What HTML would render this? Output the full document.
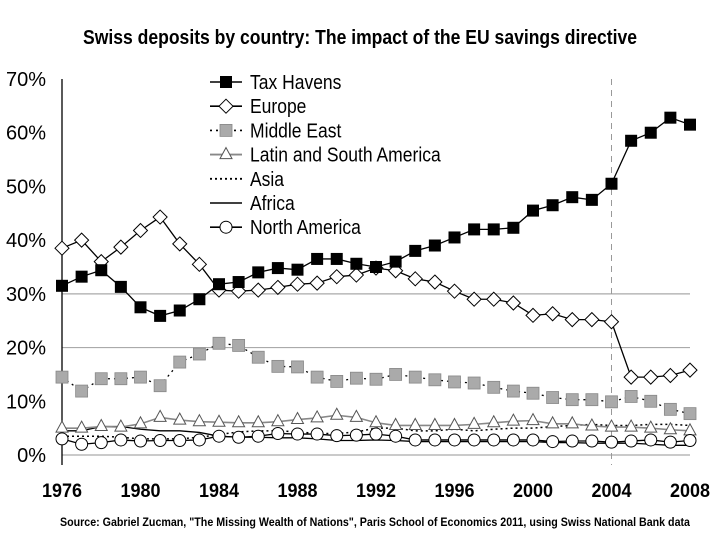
<!DOCTYPE html>
<html><head><meta charset="utf-8"><style>
body{margin:0;background:#fff;width:720px;height:540px;overflow:hidden}
svg{display:block}
text{font-family:"Liberation Sans Narrow","Liberation Sans",sans-serif}
</style></head><body>
<svg id="c" width="720" height="540">
<text x="83" y="44" textLength="554" lengthAdjust="spacingAndGlyphs" font-size="20" font-weight="bold">Swiss deposits by country: The impact of the EU savings directive</text>
<text x="60" y="526" textLength="630" lengthAdjust="spacingAndGlyphs" font-size="11.5" font-weight="bold">Source: Gabriel Zucman, "The Missing Wealth of Nations", Paris School of Economics 2011, using Swiss National Bank data</text>
<g id="axes"></g><g id="series"></g><g id="legend"></g>
</svg>
<script>
const years=[];for(let y=1976;y<=2008;y++)years.push(y);
const yTicks=[0,10,20,30,40,50,60,70];
const xTicks=[1976,1980,1984,1988,1992,1996,2000,2004,2008];
const gridVals=[0,20,30];
const taxHavens=[31.5,33.2,34.4,31.3,27.5,25.9,26.9,29.0,31.8,32.2,34.0,34.8,34.5,36.5,36.5,35.6,35.0,36.0,38.0,39.0,40.5,42.0,42.0,42.3,45.5,46.5,48.0,47.5,50.5,58.5,60.0,62.8,61.5];
const europe=[38.5,40.0,36.0,38.7,41.8,44.3,39.3,35.5,30.7,30.5,30.7,31.2,31.8,32.0,33.2,33.5,34.8,34.3,32.8,32.2,30.5,29.0,29.0,28.3,26.0,26.3,25.2,25.2,24.8,14.5,14.5,14.8,15.8];
const middleEast=[14.5,11.9,14.2,14.2,14.5,12.9,17.3,18.8,20.8,20.4,18.2,16.5,16.4,14.5,13.7,14.3,14.1,15.0,14.5,14.0,13.6,13.4,12.6,11.9,11.5,10.7,10.3,10.3,9.9,10.9,10.0,8.5,7.7];
const latin=[5.0,5.0,5.3,5.2,5.8,7.0,6.5,6.2,6.1,6.0,6.0,6.2,6.6,6.9,7.4,7.0,6.0,5.5,5.5,5.5,5.5,5.7,6.0,6.3,6.4,5.8,5.8,5.4,5.2,5.2,5.0,4.7,4.5];
const asia=[3.5,3.5,3.5,3.3,3.0,3.0,3.0,3.3,3.8,4.3,4.5,4.5,4.3,4.0,4.0,4.3,5.0,5.0,4.5,4.5,4.8,4.5,4.8,5.0,5.0,5.3,5.5,5.7,5.5,5.5,5.7,5.7,5.5];
const africa=[4.5,4.5,5.3,5.3,4.8,4.5,4.5,4.2,3.5,3.3,3.3,3.2,3.2,3.0,2.7,2.7,2.8,2.7,2.5,2.5,2.5,2.5,2.5,2.5,2.5,2.3,2.3,2.2,2.2,2.2,2.0,1.8,1.8];
const northAmerica=[3.0,2.0,2.3,2.8,2.6,2.7,2.7,2.8,3.5,3.3,3.5,4.0,3.9,3.9,3.6,3.7,3.9,3.5,2.8,2.8,2.8,2.8,2.8,2.8,2.8,2.5,2.6,2.6,2.4,2.6,2.8,2.4,2.7];
const seriesNames=["Tax Havens","Europe","Middle East","Latin and South America","Asia","Africa","North America"];

const NS="http://www.w3.org/2000/svg";
const X0=62,X1=690,Y0=455,Y70=79;
const xs=y=>X0+(y-1976)*(X1-X0)/32;
const ys=v=>Y0-v*(Y0-Y70)/70;
function mk(tag,attrs,parent){const e=document.createElementNS(NS,tag);for(const k in attrs)e.setAttribute(k,attrs[k]);parent.appendChild(e);return e;}
const axes=document.getElementById('axes'),ser=document.getElementById('series'),leg=document.getElementById('legend');
gridVals.forEach(v=>{const l=mk('line',{x1:X0,x2:X1,y1:ys(v),y2:ys(v),stroke:'#aaa','stroke-width':1.2},axes);

});
const dl=mk('line',{x1:xs(2004),x2:xs(2004),y1:Y70,y2:Y0+10,stroke:'#999','stroke-dasharray':'6,5'},axes);


const ya=mk('line',{x1:X0,x2:X0,y1:Y70,y2:Y0+10,stroke:'#000','stroke-width':1.3},axes);


yTicks.forEach(v=>{const t=mk('text',{x:46,y:ys(v)+7,'text-anchor':'end','font-size':20},axes);t.textContent=v+'%';

});
xTicks.forEach(v=>{const t=mk('text',{x:xs(v),y:497,'text-anchor':'middle','font-size':19,'font-weight':'bold',textLength:40,lengthAdjust:'spacingAndGlyphs'},axes);t.textContent=v;

});
function marker(type,x,y,g){
 if(type==='sq')mk('rect',{x:x-6,y:y-6,width:12,height:12,fill:'#000'},g);
 else if(type==='gsq')mk('rect',{x:x-6,y:y-6,width:12,height:12,fill:'#aaa',stroke:'#888','stroke-width':0.8},g);
 else if(type==='dia')mk('path',{d:`M${x},${y-7}L${x+7},${y}L${x},${y+7}L${x-7},${y}Z`,fill:'#fff',stroke:'#000','stroke-width':1},g);
 else if(type==='tri')mk('path',{d:`M${x},${y-7}L${x+6},${y+4}L${x-6},${y+4}Z`,fill:'#fff',stroke:'#555','stroke-width':1},g);
 else if(type==='circ')mk('circle',{cx:x,cy:y,r:6,fill:'#fff',stroke:'#000','stroke-width':1},g);
}
const styles=[
 {d:taxHavens,c:'#000',w:1.3,dash:'',m:'sq'},
 {d:europe,c:'#000',w:1.3,dash:'',m:'dia'},
 {d:middleEast,c:'#000',w:1.3,dash:'2,4',m:'gsq'},
 {d:latin,c:'#888',w:1.6,dash:'',m:'tri'},
 {d:asia,c:'#000',w:1.5,dash:'2,3',m:''},
 {d:africa,c:'#000',w:1.3,dash:'',m:''},
 {d:northAmerica,c:'#000',w:1.3,dash:'',m:'circ'}];
const order=[5,4,3,6,2,1,0];
order.forEach(i=>{const s=styles[i];const g=mk('g',{},ser);
 
 
 mk('polyline',{points:s.d.map((v,j)=>xs(years[j])+','+ys(v)).join(' '),fill:'none',stroke:s.c,'stroke-width':s.w,'stroke-dasharray':s.dash},g);
 if(s.m)s.d.forEach((v,j)=>marker(s.m,xs(years[j]),ys(v),g));
});
styles.forEach((s,i)=>{const y=82+i*24.2;const g=mk('g',{},leg);
 
 
 mk('line',{x1:210,x2:242,y1:y,y2:y,stroke:s.c,'stroke-width':s.w+0.3,'stroke-dasharray':s.dash},g);
 if(s.m)marker(s.m,226,y,g);
 const t=mk('text',{x:250,y:y+7,'font-size':20},g);t.textContent=seriesNames[i];
 const w=t.getComputedTextLength();
 t.setAttribute('textLength',(w*0.875).toFixed(1));
 t.setAttribute('lengthAdjust','spacingAndGlyphs');
});
</script>
</body></html>
